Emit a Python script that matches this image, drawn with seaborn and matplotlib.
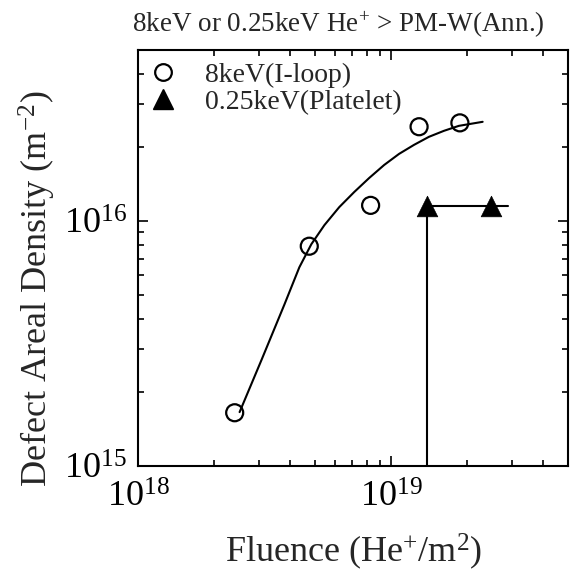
import matplotlib
matplotlib.use("Agg")
import matplotlib.pyplot as plt
import seaborn as sns
import pandas as pd
from matplotlib.lines import Line2D
from matplotlib.ticker import LogLocator, NullFormatter

# ---- data ----
iloop_fluence = [2.41e18, 4.75e18, 8.3e18, 1.29e19, 1.87e19]
iloop_density = [1.65e15, 7.9e15, 1.16e16, 2.43e16, 2.52e16]

fit_fluence = [2.52e18, 3.08e18, 3.79e18, 4.34e18, 4.84e18, 5.45e18, 6.24e18,
               7.15e18, 8.19e18, 9.39e18, 1.075e19, 1.232e19, 1.411e19,
               1.617e19, 1.852e19, 2.30e19]
fit_density = [1.66e15, 2.72e15, 4.57e15, 6.48e15, 8.05e15, 9.63e15, 1.141e16,
               1.315e16, 1.50e16, 1.696e16, 1.882e16, 2.049e16, 2.21e16,
               2.338e16, 2.45e16, 2.545e16]

platelet_fluence = [1.39e19, 2.48e19]
platelet_density = [1.15e16, 1.15e16]
platelet_hline_end = 2.89e19

x_limits = [1e18, 5e19]
y_limits = [1e15, 5e16]

title_text = "8keV or 0.25keV He$^{+}$ > PM-W(Ann.)"
xlabel_text = "Fluence (He$^{+}$/m$^{2}$)"
ylabel_text = "Defect Areal Density (m$^{-2}$)"
legend_labels = ["8keV(I-loop)", "0.25keV(Platelet)"]

# ---- style ----
sns.set_theme(style="ticks")
plt.rcParams["font.family"] = ["Liberation Serif", "DejaVu Serif"]
plt.rcParams["mathtext.fontset"] = "custom"
plt.rcParams["mathtext.rm"] = "Liberation Serif"
plt.rcParams["mathtext.it"] = "Liberation Serif:italic"
plt.rcParams["mathtext.bf"] = "Liberation Serif:bold"

fig = plt.figure(figsize=(5.72, 5.72), dpi=100)
W = H = 572.0
ax = fig.add_axes([138 / W, 1 - 466 / H, 430 / W, 416 / H])

df_iloop = pd.DataFrame({"fluence": iloop_fluence, "density": iloop_density})
df_fit = pd.DataFrame({"fluence": fit_fluence, "density": fit_density})
df_plt = pd.DataFrame({"fluence": platelet_fluence, "density": platelet_density})

# fitted curve
sns.lineplot(data=df_fit, x="fluence", y="density", ax=ax, color="black",
             lw=1.5, sort=False, estimator=None, zorder=2)

# platelet lines
ax.plot([platelet_fluence[0], platelet_hline_end],
        [platelet_density[0], platelet_density[0]], color="black", lw=1.5, zorder=2)
ax.plot([platelet_fluence[0], platelet_fluence[0]],
        [y_limits[0], platelet_density[0]], color="black", lw=1.5, zorder=2)

# markers
sns.scatterplot(data=df_iloop, x="fluence", y="density", ax=ax, marker="o",
                s=150, facecolor="none", edgecolor="black", linewidth=1.6, zorder=3)
sns.scatterplot(data=df_plt, x="fluence", y="density", ax=ax, marker="^",
                s=220, color="black", edgecolor="black", linewidth=0.5, zorder=3)

ax.set_xscale("log")
ax.set_yscale("log")
ax.set_xlim(x_limits)
ax.set_ylim(y_limits)

ax.xaxis.set_major_locator(LogLocator(base=10, numticks=10))
ax.yaxis.set_major_locator(LogLocator(base=10, numticks=10))
ax.xaxis.set_minor_locator(LogLocator(base=10, subs=range(2, 10), numticks=20))
ax.yaxis.set_minor_locator(LogLocator(base=10, subs=range(2, 10), numticks=20))
ax.xaxis.set_minor_formatter(NullFormatter())
ax.yaxis.set_minor_formatter(NullFormatter())

ax.tick_params(which="both", direction="in", top=True, right=True,
               colors="black", width=1.2)
ax.tick_params(which="major", length=7, labelsize=26)
ax.tick_params(axis="x", which="major", pad=11)
ax.tick_params(axis="y", which="major", pad=8)
ax.tick_params(which="minor", length=4.5)
for sp in ax.spines.values():
    sp.set_linewidth(1.5)
    sp.set_color("black")

ax.set_xlabel("")
ax.set_ylabel("")

fig.text(354 / W, 1 - 562 / H, xlabel_text, fontsize=26, ha="center", va="baseline")
fig.text(37 / W, 1 - 289 / H, ylabel_text, fontsize=26, ha="center", va="center",
         rotation=90)
fig.text(338 / W, 1 - 25 / H, title_text, fontsize=19.5, ha="center", va="center")

handles = [
    Line2D([], [], marker="o", ls="none", markersize=12, markerfacecolor="none",
           markeredgecolor="black", markeredgewidth=1.6),
    Line2D([], [], marker="^", ls="none", markersize=14, color="black"),
]
ax.legend(handles, legend_labels, loc="upper left", frameon=False,
          bbox_to_anchor=(0.026, 0.97), borderaxespad=0, borderpad=0,
          handlelength=1.0, handletextpad=1.0, labelspacing=0.05, fontsize=20)

fig.savefig("out.png", dpi=100)
